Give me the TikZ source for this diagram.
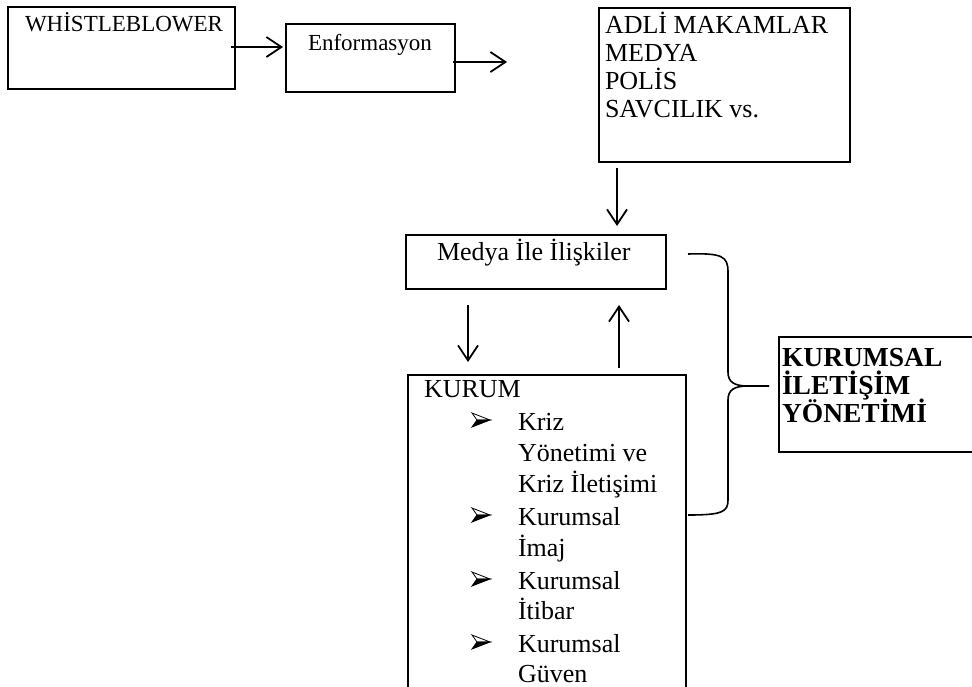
\documentclass[tikz,border=0pt]{standalone}
\usepackage{fontspec}
\setmainfont{Liberation Serif}
\usetikzlibrary{arrows.meta}
\begin{document}
\begin{tikzpicture}[x=1pt,y=-1pt,
  box/.style={draw, line width=1.8pt, rectangle, anchor=north west, inner sep=0pt, outer sep=0pt},
  txt/.style={anchor=base west, inner sep=0pt, outer sep=0pt, font=\fontsize{26}{30}\selectfont},
  smalltxt/.style={txt, font=\fontsize{23}{27}\selectfont},
  boldtxt/.style={txt, font=\fontsize{27.5}{31}\selectfont\bfseries},
  arr/.style={line width=1.8pt, -{Straight Barb[length=15pt,width=20pt,line width=1.8pt]}},
  brace/.style={line width=1.6pt},
  bulletmark/.pic={
    \filldraw[fill=white, line width=0.8pt, line join=miter] (9,0) -- (-9,-7) -- (-4,0) -- cycle;
    \filldraw[fill=black, line width=0.8pt, line join=miter] (9,0) -- (-4,0) -- (-9,7) -- cycle;
  }
]
\fill[white] (0,0) rectangle (972,686);
\clip (0,0) rectangle (972,686);
% boxes
\node[box, minimum width=227pt, minimum height=82pt] (wb) at (8,7) {};
\node[box, minimum width=169pt, minimum height=68pt] (en) at (286,24) {};
\node[box, minimum width=251pt, minimum height=154pt] (adli) at (599,8) {};
\node[box, minimum width=260pt, minimum height=54pt] (medya) at (406,235) {};
\node[box, minimum width=278pt, minimum height=340pt] (kurum) at (408,375) {};
\node[box, minimum width=240pt, minimum height=115pt] (kys) at (779,337) {};
% texts
\node[smalltxt] (t1) at (25,31) {WHİSTLEBLOWER};
\node[smalltxt] (t2) at (308,50) {Enformasyon};
\node[txt] (t3) at (605,33) {ADLİ MAKAMLAR};
\node[txt] (t4) at (605,61) {MEDYA};
\node[txt] (t5) at (605,89) {POLİS};
\node[txt] (t6) at (605,117) {SAVCILIK vs.};
\node[txt] (t7) at (437,260) {Medya İle İlişkiler};
\node[txt] (k0) at (424,397) {KURUM};
\node[txt] (k1) at (518,430) {Kriz};
\node[txt] (k2) at (518,461) {Yönetimi ve};
\node[txt] (k3) at (518,492) {Kriz İletişimi};
\node[txt] (k4) at (518,525) {Kurumsal};
\node[txt] (k5) at (518,556) {İmaj};
\node[txt] (k6) at (518,589) {Kurumsal};
\node[txt] (k7) at (518,619) {İtibar};
\node[txt] (k8) at (518,652) {Kurumsal};
\node[txt] (k9) at (518,682) {Güven};
\node[boldtxt] (y1) at (782,366) {KURUMSAL};
\node[boldtxt] (y2) at (782,394) {İLETİŞİM};
\node[boldtxt] (y3) at (782,422) {YÖNETİMİ};
% bullets
\pic at (481,420) {bulletmark};
\pic at (481,515) {bulletmark};
\pic at (481,579) {bulletmark};
\pic at (481,642) {bulletmark};
% arrow end points
\coordinate (a1s) at (231,47); \coordinate (a1e) at (283,47);
\coordinate (a2s) at (453,62); \coordinate (a2e) at (507,62);
\coordinate (a3s) at (617,168); \coordinate (a3e) at (617,226);
\coordinate (a4s) at (468,305); \coordinate (a4e) at (468,362);
\coordinate (a5s) at (619,368); \coordinate (a5e) at (619,305);
\draw[arr] (a1s) -- (a1e);
\draw[arr] (a2s) -- (a2e);
\draw[arr] (a3s) -- (a3e);
\draw[arr] (a4s) -- (a4e);
\draw[arr] (a5s) -- (a5e);
% brace
\coordinate (bt) at (688,254);
\coordinate (btip) at (769,386);
\coordinate (bb) at (688,515);
\draw[brace] (bt) .. controls (722,253) and (728,256) .. (728,272)
  -- (728,372) .. controls (728,382) and (734,386) .. (748,386) -- (btip);
\draw[brace] (btip) -- (748,386) .. controls (734,386) and (728,390) .. (728,400)
  -- (728,500) .. controls (728,512) and (722,515) .. (bb);
\end{tikzpicture}
\end{document}
